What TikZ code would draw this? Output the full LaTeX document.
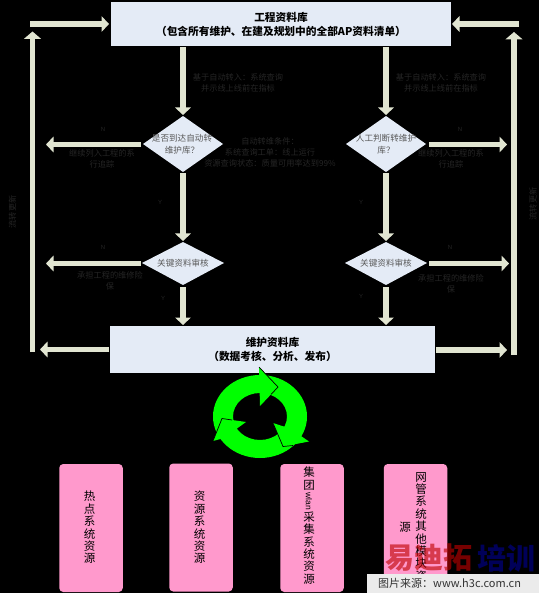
\documentclass[tikz,border=0pt]{standalone}
\usepackage{fontspec}
\setmainfont{Liberation Sans}
\newfontfamily\cjk{Noto Sans CJK SC}
\usetikzlibrary{arrows.meta}
\definecolor{boxblue}{HTML}{E4EBF6}
\definecolor{arrowc}{HTML}{E1E5D1}
\definecolor{pinkc}{HTML}{FF99CC}
\definecolor{halo}{HTML}{252525}
\definecolor{loopg}{HTML}{00FF00}
\tikzset{
 x=1pt,y=-1pt,
 bigbox/.style={fill=boxblue,inner sep=0pt,font=\cjk\fontsize{10.7}{14}\selectfont\bfseries,align=center,text=black},
 dec/.style={inner sep=0pt,font=\cjk\fontsize{8.6}{11.5}\selectfont,align=center,text=black!65},
 flow/.style={draw=arrowc,line width=5.4pt,-{Triangle[length=7.5pt,width=15.5pt]}},
 rail/.style={draw=arrowc,line width=5.2pt,-{Triangle[length=7.5pt,width=17pt]}},
 note/.style={font=\cjk\fontsize{8.2}{11}\selectfont,text=halo,align=center,inner sep=0pt},
 srcbox/.style={fill=pinkc,rounded corners=4pt,inner sep=0pt,minimum width=63.5pt,minimum height=128pt},
 vtext/.style={font=\cjk\fontsize{11.5}{12.4}\selectfont,align=center,text width=12pt,inner sep=0pt,text=black},
 mark text/.style={font=\fontsize{6}{6}\selectfont,text=halo,inner sep=0pt},
 wm/.style={font=\cjk\bfseries\fontsize{29}{29}\selectfont,inner sep=0pt},
}
\begin{document}
\begin{tikzpicture}
\fill[black] (0,0) rectangle (539,593);
\useasboundingbox (0,0) rectangle (539,593);
% main boxes
\node[bigbox,minimum width=340pt,minimum height=44pt] (top) at (281,24) {工程资料库\\（包含所有维护、在建及规划中的全部AP资料清单）};
\node[bigbox,minimum width=325pt,minimum height=47pt] (bot) at (272.5,349.5) {维护资料库\\（数据考核、分析、发布）};
% diamonds
\path[fill=boxblue] (183,116) coordinate (d1t) -- (223,144) coordinate (d1r) -- (183,172) coordinate (d1b) -- (143,144) coordinate (d1l) -- cycle;
\node[dec] (d1) at (182,144) {是否到达自动转\\维护库？};
\path[fill=boxblue] (386,116) coordinate (d2t) -- (426,144) coordinate (d2r) -- (386,172) coordinate (d2b) -- (346,144) coordinate (d2l) -- cycle;
\node[dec] (d2) at (386,144) {人工判断转维护\\库？};
\path[fill=boxblue] (183,242) coordinate (d3t) -- (224,263) coordinate (d3r) -- (183,285) coordinate (d3b) -- (142,263) coordinate (d3l) -- cycle;
\node[dec] (d3) at (183,263) {关键资料审核};
\path[fill=boxblue] (386,242) coordinate (d4t) -- (427,263) coordinate (d4r) -- (386,285) coordinate (d4b) -- (345,263) coordinate (d4l) -- cycle;
\node[dec] (d4) at (386,263) {关键资料审核};
% vertical flows
\draw[flow] (183,47) -- (183,115);
\draw[flow] (386,47) -- (386,115);
\draw[flow] (183,173) -- (183,241);
\draw[flow] (386,173) -- (386,241);
\draw[flow] (183,287) -- (183,325);
\draw[flow] (386,287) -- (386,325);
% horizontal flows
\draw[flow] (141,144.5) -- (46,144.5);
\draw[flow] (429,144.5) -- (507,144.5);
\draw[flow] (141,263.5) -- (46,263.5);
\draw[flow] (429,263.5) -- (509,263.5);
\draw[flow] (109,349.5) -- (40,349.5);
\draw[flow] (436,350) -- (507,350);
% rails
\draw[rail] (32.5,352) -- (32.5,31.5);
\draw[flow] (30,24) -- (109,24);
\draw[rail] (514,355) -- (514,32);
\draw[flow] (519,24) -- (452,24);
% labels
\node[note] (n1) at (238,82.5) {基于自动转入：系统查询\\并示线上线前在指标};
\node[note] (n2) at (441,82.5) {基于自动转入：系统查询\\并示线上线前在指标};
\node[note] (n3) at (270,152) {自动转维条件：\\系统查询工单：线上运行\\资源查询状态：质量可用率达到99\%};
\node[note] (n4) at (102,158.5) {继续列入工程的系\\行追踪};
\node[note] (n5) at (451,158.5) {继续列入工程的系\\行追踪};
\node[note] (n6) at (110,281) {承担工程的维修险\\保};
\node[note] (n7) at (451,284) {承担工程的维修险\\保};
\node[note,rotate=90] (n8) at (12.5,212) {流转更新};
\node[note,rotate=90] (n9) at (533,204) {流转更新};
\node[mark text] (m1) at (103,129) {N};
\node[mark text] (m2) at (460,129) {N};
\node[mark text] (m3) at (103,247) {N};
\node[mark text] (m4) at (450,247) {N};
\node[mark text] (m5) at (160,202) {Y};
\node[mark text] (m6) at (361,202) {Y};
\node[mark text] (m7) at (163,298) {Y};
\node[mark text] (m8) at (361,296) {Y};
% recycling loop
\begin{scope}[shift={(260,416.5)}]
 \fill[loopg,even odd rule] (0,0) ellipse[x radius=47pt,y radius=41.5pt] (0,0) ellipse[x radius=27pt,y radius=23.5pt];
 \fill[loopg] (-1,-49.5) -- (18,-29.5) -- (0,-10.5) -- cycle;
 \draw[black,line width=0.7pt] (-1,-49.5) -- (18,-29.5) -- (11,-22);
 \fill[loopg] (13,6.5) -- (23,30) -- (49,25) -- (30,12) -- cycle;
 \draw[black,line width=0.7pt] (13,6.5) -- (23,30) -- (33,29);
 \fill[loopg] (-47,24.5) -- (-38,2) -- (-14,5.5) -- (-23,12) -- (-30,20) -- cycle;
 \draw[black,line width=0.7pt] (-47,24.5) -- (-38,2) -- (-28,3.5);
\end{scope}
% source boxes
\node[srcbox] (s1) at (91,528) {};
\node[srcbox] (s2) at (201,527.5) {};
\node[srcbox] (s3) at (312,528) {};
\node[srcbox] (s4) at (415.5,528) {};
\node[vtext] at (89.5,527.5) {热\\点\\系\\统\\资\\源};
\node[vtext] at (199.5,527.5) {资\\源\\系\\统\\资\\源};
\node[vtext,anchor=north] at (309,467) {集\\团};
\node[font=\fontsize{8.5}{8.5}\selectfont,rotate=-90,inner sep=0pt] at (309,501.5) {wlan};
\node[vtext,anchor=north] at (309,511.5) {采\\集\\系\\统\\资\\源};
\node[vtext,anchor=north] (s4t) at (421,472) {网\\管\\系\\统\\其\\他\\模\\块\\资};
\node[vtext] at (405,527.5) {源};
% watermark
\node[wm,text=red!75!black,opacity=.62] at (429,558) {易迪拓};
\node[wm,text=blue!35!black] at (506,558) {培训};
\fill[white!92!black] (367,574) rectangle (539,593);
\node[font=\cjk\fontsize{11}{11}\selectfont,text=black!80,anchor=west,inner sep=0pt] at (378,583) {图片来源：www.h3c.com.cn};
\end{tikzpicture}
\end{document}
